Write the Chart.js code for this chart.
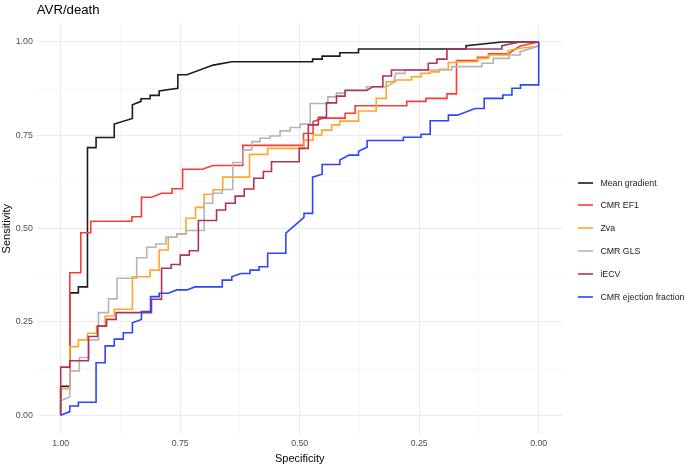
<!DOCTYPE html>
<html>
<head>
<meta charset="utf-8">
<script src="https://cdn.jsdelivr.net/npm/chart.js@4.4.0/dist/chart.umd.min.js"></script>
<style>
  html, body { margin: 0; padding: 0; background: #fff; }
  #wrap { position: relative; width: 685px; height: 469px; font-family: "Liberation Sans", Arial, sans-serif; }
  #legend { position: absolute; left: 578px; top: 171.3px; }
  .row { display: flex; align-items: center; height: 22.8px; font-size: 8.8px; color: #1a1a1a; white-space: nowrap; }
  .key { display: block; width: 15px; height: 4px; margin-right: 7.4px; }
</style>
</head>
<body>
<div id="wrap">
  <canvas id="chart" width="685" height="469"></canvas>
  <div id="legend"></div>
</div>
<script>
// [specificity, sensitivity] pairs
const meanGradient = [[1,0],[1,0.078],[0.981,0.078],[0.981,0.328],[0.963,0.328],[0.963,0.344],[0.944,0.344],[0.944,0.717],[0.926,0.717],[0.926,0.744],[0.888,0.744],[0.888,0.780],[0.850,0.795],[0.850,0.832],[0.832,0.841],[0.832,0.848],[0.813,0.848],[0.813,0.857],[0.794,0.857],[0.794,0.869],[0.755,0.876],[0.755,0.912],[0.736,0.912],[0.681,0.938],[0.642,0.947],[0.473,0.947],[0.473,0.954],[0.453,0.954],[0.453,0.962],[0.416,0.962],[0.416,0.971],[0.377,0.971],[0.377,0.981],[0.152,0.981],[0.152,0.990],[0.077,1],[0,1]];

const cmrEf1 = [[1,0],[1,0.072],[0.981,0.072],[0.981,0.382],[0.958,0.382],[0.958,0.489],[0.937,0.489],[0.937,0.520],[0.851,0.520],[0.851,0.532],[0.831,0.532],[0.831,0.584],[0.810,0.584],[0.789,0.595],[0.767,0.595],[0.767,0.607],[0.745,0.607],[0.745,0.659],[0.703,0.659],[0.682,0.669],[0.619,0.669],[0.619,0.723],[0.492,0.723],[0.492,0.755],[0.472,0.755],[0.472,0.787],[0.451,0.796],[0.405,0.796],[0.405,0.809],[0.384,0.809],[0.384,0.829],[0.276,0.829],[0.276,0.841],[0.236,0.841],[0.236,0.849],[0.192,0.849],[0.192,0.861],[0.172,0.861],[0.172,0.950],[0.128,0.950],[0.128,0.959],[0.105,0.959],[0.105,0.968],[0.064,0.968],[0.039,0.989],[0,1]];

const zva = [[1,0],[1,0.072],[0.981,0.072],[0.981,0.184],[0.963,0.184],[0.963,0.202],[0.944,0.202],[0.944,0.220],[0.925,0.220],[0.925,0.239],[0.907,0.239],[0.907,0.266],[0.888,0.266],[0.888,0.284],[0.850,0.284],[0.850,0.371],[0.813,0.371],[0.813,0.389],[0.794,0.389],[0.794,0.443],[0.775,0.443],[0.775,0.477],[0.757,0.477],[0.757,0.486],[0.738,0.486],[0.738,0.528],[0.718,0.528],[0.718,0.557],[0.700,0.557],[0.700,0.592],[0.681,0.592],[0.681,0.604],[0.661,0.604],[0.661,0.638],[0.605,0.638],[0.605,0.699],[0.567,0.699],[0.567,0.715],[0.491,0.715],[0.491,0.737],[0.472,0.737],[0.472,0.751],[0.454,0.751],[0.454,0.764],[0.433,0.764],[0.433,0.778],[0.416,0.778],[0.416,0.788],[0.377,0.788],[0.377,0.815],[0.340,0.815],[0.340,0.849],[0.319,0.849],[0.319,0.893],[0.299,0.893],[0.299,0.898],[0.266,0.898],[0.266,0.907],[0.246,0.907],[0.246,0.916],[0.227,0.916],[0.227,0.920],[0.208,0.920],[0.208,0.927],[0.189,0.927],[0.189,0.945],[0.172,0.945],[0.172,0.947],[0.128,0.947],[0.128,0.956],[0.105,0.956],[0.105,0.965],[0.064,0.965],[0.064,0.977],[0.039,0.983],[0,0.989],[0,1]];

const cmrGls = [[1,0],[1,0.039],[0.981,0.050],[0.981,0.119],[0.961,0.119],[0.961,0.155],[0.941,0.155],[0.941,0.202],[0.921,0.202],[0.921,0.275],[0.900,0.275],[0.900,0.312],[0.882,0.312],[0.882,0.367],[0.841,0.367],[0.841,0.422],[0.820,0.422],[0.820,0.450],[0.801,0.450],[0.801,0.459],[0.780,0.459],[0.780,0.477],[0.757,0.477],[0.757,0.486],[0.738,0.486],[0.738,0.495],[0.700,0.495],[0.700,0.568],[0.682,0.568],[0.682,0.595],[0.662,0.595],[0.662,0.605],[0.640,0.605],[0.640,0.677],[0.618,0.677],[0.618,0.711],[0.600,0.711],[0.600,0.733],[0.583,0.733],[0.583,0.742],[0.562,0.742],[0.562,0.748],[0.541,0.748],[0.541,0.762],[0.520,0.762],[0.520,0.771],[0.499,0.771],[0.499,0.780],[0.478,0.780],[0.478,0.835],[0.441,0.835],[0.441,0.853],[0.423,0.853],[0.423,0.863],[0.405,0.863],[0.405,0.871],[0.360,0.871],[0.360,0.880],[0.319,0.880],[0.304,0.891],[0.299,0.916],[0.280,0.916],[0.280,0.925],[0.182,0.925],[0.182,0.934],[0.119,0.934],[0.119,0.943],[0.095,0.943],[0.095,0.956],[0.062,0.956],[0.062,0.965],[0.039,0.965],[0.039,0.974],[0,0.989],[0,1]];

const iecv = [[1,0],[1,0.129],[0.981,0.129],[0.981,0.146],[0.942,0.146],[0.942,0.211],[0.923,0.211],[0.923,0.239],[0.904,0.239],[0.904,0.257],[0.884,0.257],[0.884,0.275],[0.810,0.275],[0.810,0.311],[0.789,0.311],[0.789,0.394],[0.769,0.394],[0.769,0.404],[0.750,0.404],[0.750,0.429],[0.731,0.429],[0.731,0.441],[0.712,0.441],[0.712,0.522],[0.674,0.522],[0.674,0.550],[0.655,0.550],[0.655,0.568],[0.635,0.568],[0.635,0.587],[0.616,0.587],[0.616,0.606],[0.596,0.606],[0.596,0.635],[0.576,0.635],[0.576,0.653],[0.559,0.653],[0.559,0.679],[0.501,0.679],[0.501,0.715],[0.482,0.715],[0.482,0.778],[0.461,0.778],[0.461,0.798],[0.444,0.798],[0.444,0.837],[0.423,0.837],[0.423,0.855],[0.405,0.855],[0.405,0.870],[0.360,0.870],[0.347,0.880],[0.326,0.880],[0.326,0.909],[0.308,0.909],[0.308,0.925],[0.231,0.925],[0.231,0.943],[0.213,0.943],[0.213,0.954],[0.192,0.954],[0.192,0.981],[0.077,0.981],[0.077,0.990],[0.039,1],[0,1]];

const cmrEjectionFraction = [[1,0],[0.981,0.010],[0.981,0.025],[0.963,0.025],[0.963,0.035],[0.926,0.035],[0.926,0.141],[0.907,0.141],[0.907,0.186],[0.888,0.186],[0.888,0.204],[0.869,0.204],[0.869,0.221],[0.850,0.221],[0.850,0.248],[0.831,0.257],[0.831,0.278],[0.812,0.278],[0.812,0.318],[0.794,0.318],[0.794,0.327],[0.775,0.327],[0.757,0.336],[0.736,0.336],[0.719,0.344],[0.662,0.344],[0.662,0.362],[0.642,0.362],[0.642,0.371],[0.623,0.380],[0.604,0.380],[0.604,0.389],[0.585,0.389],[0.585,0.398],[0.567,0.398],[0.567,0.434],[0.529,0.434],[0.529,0.488],[0.491,0.530],[0.491,0.541],[0.473,0.541],[0.473,0.638],[0.453,0.646],[0.453,0.672],[0.416,0.672],[0.416,0.684],[0.397,0.697],[0.377,0.697],[0.377,0.707],[0.359,0.718],[0.359,0.736],[0.283,0.736],[0.283,0.745],[0.246,0.745],[0.246,0.753],[0.227,0.753],[0.227,0.789],[0.189,0.789],[0.189,0.804],[0.170,0.804],[0.133,0.822],[0.114,0.822],[0.114,0.849],[0.075,0.849],[0.075,0.858],[0.056,0.858],[0.056,0.876],[0.038,0.876],[0.038,0.885],[0,0.885],[0,1]];

const seriesNames = ["Mean gradient", "CMR EF1", "Zva", "CMR GLS", "iECV", "CMR ejection fraction"];
const seriesColors = ["#1c1c1c", "#ff3b30", "#ffa726", "#b4b4b4", "#b03060", "#2a46ff"];
const seriesPoints = [meanGradient, cmrEf1, zva, cmrGls, iecv, cmrEjectionFraction];

const gridTicks = [0, 0.125, 0.25, 0.375, 0.5, 0.625, 0.75, 0.875, 1];
const labelTicks = [0, 0.25, 0.5, 0.75, 1];

const FONT = '"Liberation Sans", Arial, sans-serif';
Chart.defaults.font.family = FONT;

const isMajor = (v) => labelTicks.includes(v);

function axis(titleText, titlePad, fit) {
  return {
    type: "linear",
    min: -0.05,
    max: 1.05,
    afterBuildTicks: (s) => {
      s.ticks = gridTicks.map((v) => ({ value: v }));
    },
    afterFit: fit,
    ticks: {
      autoSkip: false,
      maxRotation: 0,
      padding: 4,
      color: "#4d4d4d",
      font: { size: 8.8 },
      callback: (v) => (isMajor(v) ? v.toFixed(2) : ""),
    },
    grid: {
      drawTicks: false,
      color: (c) => (c.tick && isMajor(c.tick.value) ? "#ebebeb" : "#f2f2f2"),
      lineWidth: (c) => (c.tick && isMajor(c.tick.value) ? 1.1 : 0.6),
    },
    border: { display: false },
    title: {
      display: true,
      text: titleText,
      color: "#000",
      font: { size: 11 },
      padding: titlePad,
    },
  };
}

const datasets = seriesNames.map((name, i) => ({
  label: name,
  data: seriesPoints[i].map((p) => ({ x: p[0], y: p[1] })),
  borderColor: seriesColors[i],
  backgroundColor: seriesColors[i],
  borderWidth: 1.6,
  pointRadius: 0,
  tension: 0,
  fill: false,
  order: seriesNames.length - 1 - i,
}));

const xScale = axis("Specificity", { top: 0, bottom: 3.4 }, (s) => { s.height = 35; });
xScale.reverse = true;
const yScale = axis("Sensitivity", { top: 0.5, bottom: 0 }, (s) => { s.width = 36.8; });

new Chart(document.getElementById("chart").getContext("2d"), {
  type: "line",
  data: { datasets },
  options: {
    responsive: false,
    devicePixelRatio: 1,
    animation: false,
    layout: { padding: { top: 0, right: 122.4, bottom: 0, left: 0 } },
    plugins: {
      legend: { display: false },
      tooltip: { enabled: false },
      title: {
        display: true,
        text: "AVR/death",
        align: "start",
        fullSize: false,
        color: "#000",
        font: { size: 13.2, weight: "normal" },
        padding: { top: 2, bottom: 5.46 },
      },
    },
    scales: { x: xScale, y: yScale },
  },
});

// legend
const legendEl = document.getElementById("legend");
seriesNames.forEach((name, i) => {
  legendEl.innerHTML +=
    `<div class="row"><svg class="key" width="15" height="4"><line x1="0" y1="2" x2="15" y2="2" stroke="${seriesColors[i]}" stroke-width="1.6"/></svg>${name}</div>`;
});
</script>
</body>
</html>
